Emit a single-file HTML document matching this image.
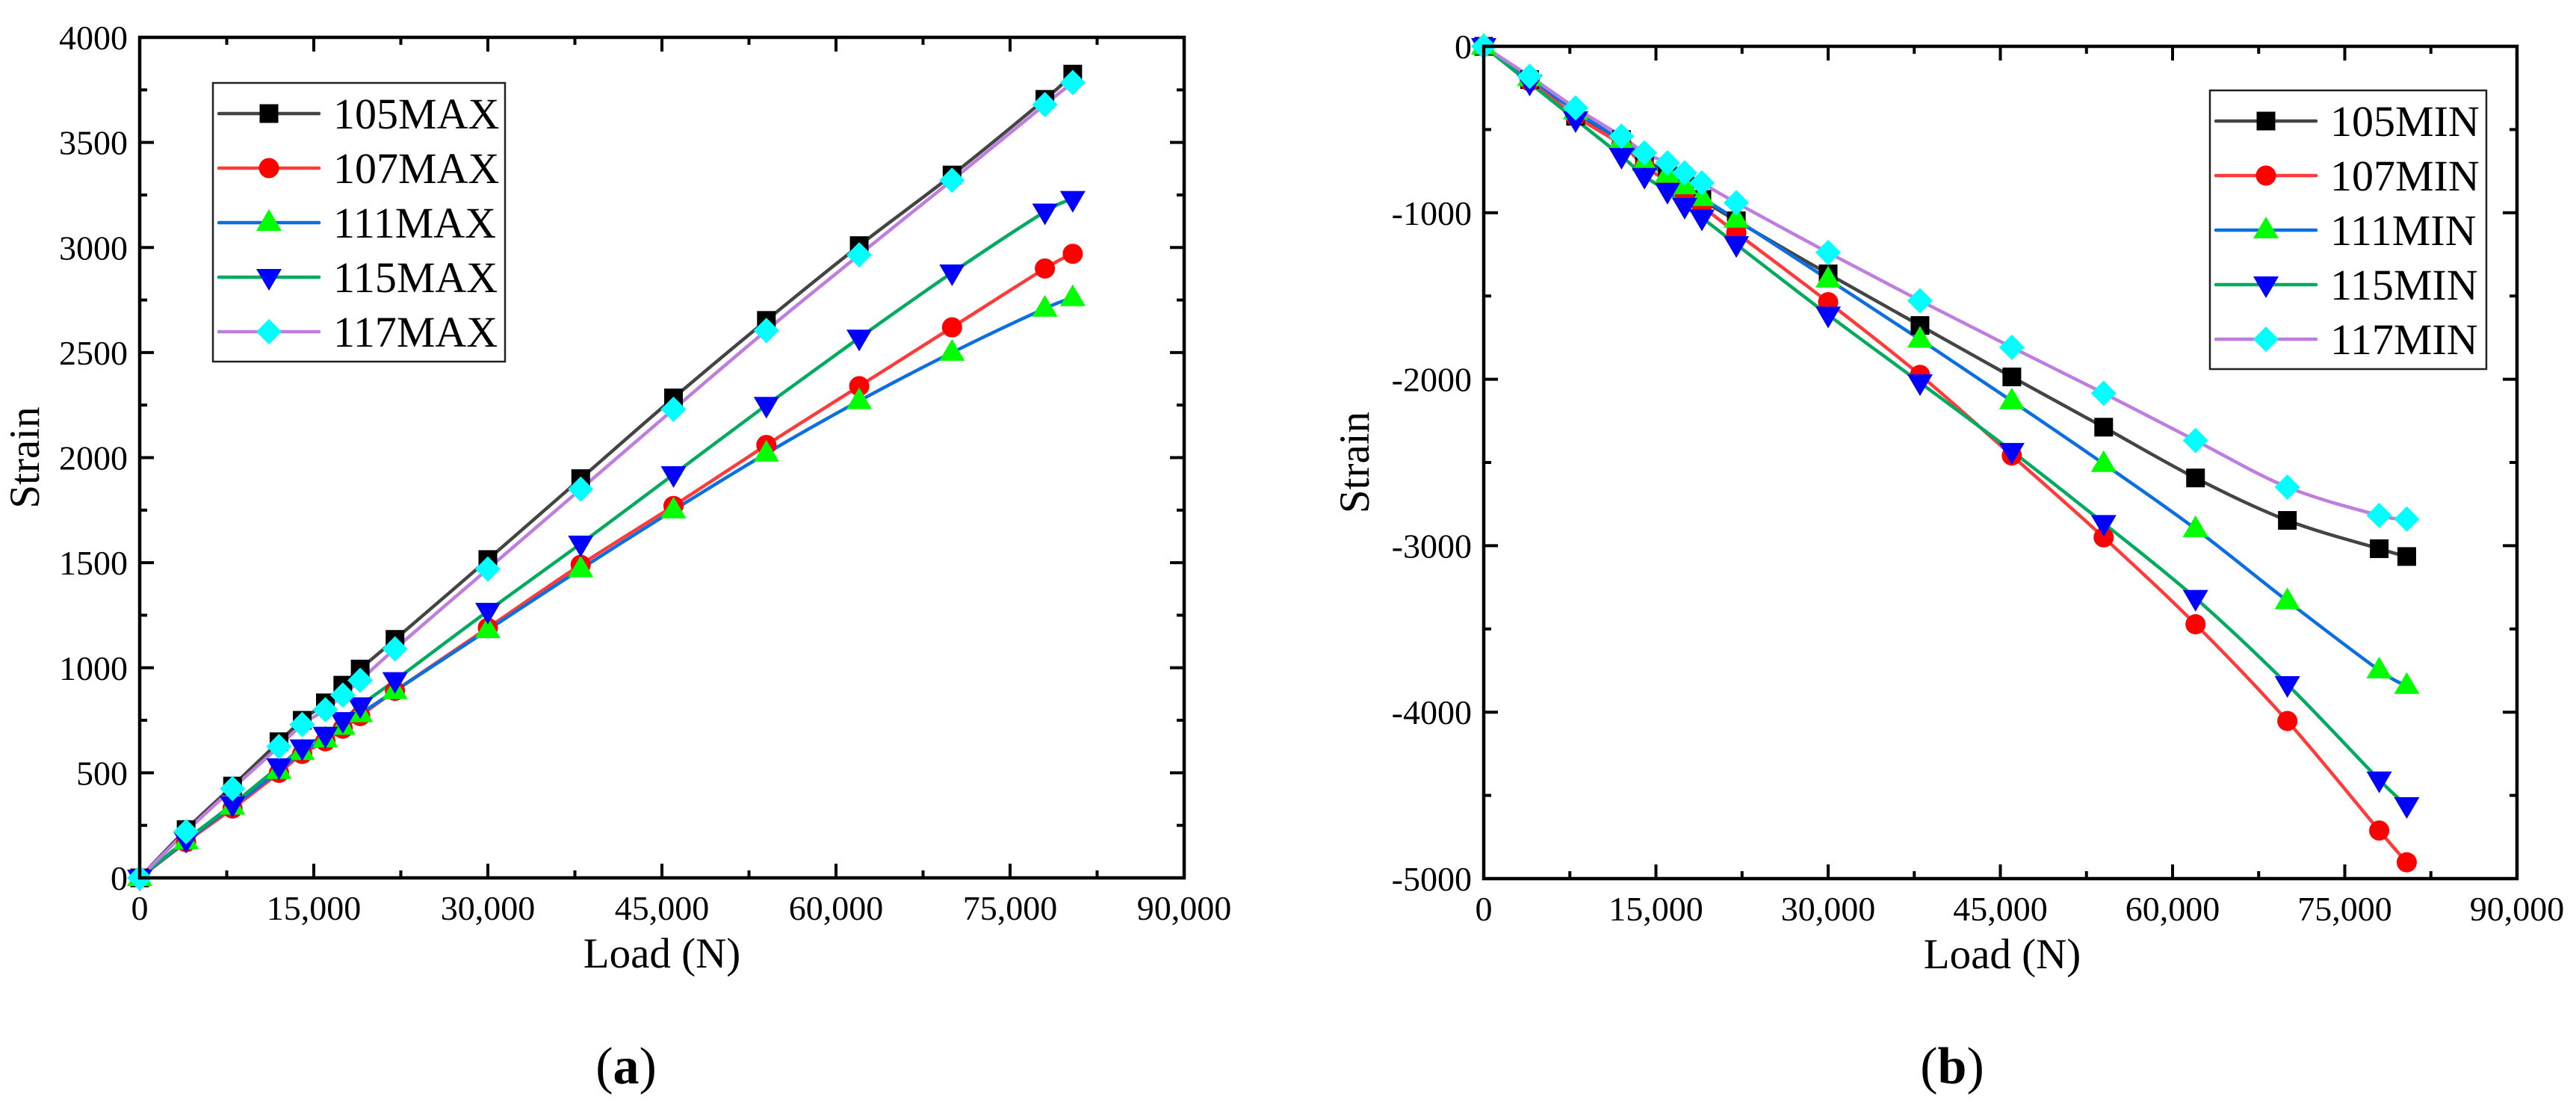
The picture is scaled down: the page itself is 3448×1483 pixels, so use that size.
<!DOCTYPE html>
<html><head><meta charset="utf-8"><style>
html,body{margin:0;padding:0;background:#fff;}
svg{display:block;font-family:"Liberation Serif","Times New Roman",serif;}
svg text{font-family:"Liberation Serif","Times New Roman",serif;}
</style></head>
<body>
<svg id="fig" width="3448" height="1483" viewBox="0 0 3448 1483" xmlns="http://www.w3.org/2000/svg" font-family="Liberation Serif, Times New Roman, serif"></svg>
<script>
const loads = [0,4000,8000,12000,14000,16000,17500,19000,22000,30000,38000,46000,54000,62000,70000,78000,80400];
const max105 = [0,230,437,648,750,833,917,994,1135,1515,1900,2284,2653,3009,3345,3705,3825];
const max107 = [0,170,330,500,590,650,710,770,890,1190,1490,1770,2060,2340,2620,2900,2970];
const max111 = [0,175,340,510,600,660,720,780,890,1180,1470,1750,2020,2270,2500,2710,2760];
const max115 = [0,180,350,530,620,680,750,820,940,1270,1590,1920,2250,2570,2880,3170,3230];
const max117 = [0,220,425,625,730,800,870,940,1090,1470,1850,2230,2605,2965,3320,3680,3785];
const min105 = [0,-200,-420,-560,-680,-760,-840,-920,-1048,-1367,-1677,-1986,-2288,-2593,-2848,-3018,-3065];
const min107 = [0,-210,-420,-590,-720,-810,-880,-960,-1120,-1537,-1974,-2458,-2950,-3472,-4053,-4711,-4902];
const min111 = [0,-190,-390,-570,-700,-770,-840,-910,-1040,-1400,-1761,-2131,-2508,-2899,-3332,-3748,-3841];
const min115 = [0,-220,-440,-660,-780,-870,-960,-1030,-1190,-1613,-2020,-2432,-2865,-3315,-3833,-4406,-4560];
const min117 = [0,-180,-370,-540,-640,-700,-760,-820,-940,-1239,-1528,-1808,-2084,-2368,-2648,-2818,-2840];
const xTicks = [0,15000,30000,45000,60000,75000,90000];
const xTickLabels = ["0","15,000","30,000","45,000","60,000","75,000","90,000"];
const yTicksA = [0,500,1000,1500,2000,2500,3000,3500,4000];
const yTicksB = [0,-1000,-2000,-3000,-4000,-5000];
const namesA = ["105MAX","107MAX","111MAX","115MAX","117MAX"];
const namesB = ["105MIN","107MIN","111MIN","115MIN","117MIN"];

const FONT = '"Liberation Serif", "Times New Roman", serif';
const styles = [
 {line:"#444444", fill:"#000000", m:"square"},
 {line:"#ff3b3b", fill:"#ff0000", m:"circle"},
 {line:"#0a6fe0", fill:"#00ff00", m:"up"},
 {line:"#00ab60", fill:"#0000ff", m:"down"},
 {line:"#c07de0", fill:"#00ffff", m:"diamond"}
];
const NS="http://www.w3.org/2000/svg";
const svg=document.getElementById('fig');
function el(tag,attrs,parent){const e=document.createElementNS(NS,tag);for(const k in attrs)e.setAttribute(k,attrs[k]);if(tag==='text'){e.setAttribute('font-family',FONT);e.style.fontFamily=FONT;}(parent||svg).appendChild(e);return e;}

function marker(g,type,x,y,fill){
  let e;
  if(type==="square"){e=el('rect',{x:x-12.5,y:y-12.5,width:25,height:25,fill:fill},g);}
  else if(type==="circle"){e=el('circle',{cx:x,cy:y,r:13.5,fill:fill},g);}
  else if(type==="up"){e=el('polygon',{points:`${x-17},${y+11} ${x+17},${y+11} ${x},${y-18}`,fill:fill},g);}
  else if(type==="down"){e=el('polygon',{points:`${x-17},${y-11} ${x+17},${y-11} ${x},${y+18}`,fill:fill},g);}
  else {e=el('polygon',{points:`${x},${y-17} ${x+17},${y} ${x},${y+17} ${x-17},${y}`,fill:fill},g);}
  return e;
}
function smoothPath(pts){
  let d=`M${pts[0][0]},${pts[0][1]}`;
  for(let i=0;i<pts.length-1;i++){
    const p0=pts[Math.max(0,i-1)],p1=pts[i],p2=pts[i+1],p3=pts[Math.min(pts.length-1,i+2)];
    const c1=[p1[0]+(p2[0]-p0[0])/6,p1[1]+(p2[1]-p0[1])/6];
    const c2=[p2[0]-(p3[0]-p1[0])/6,p2[1]-(p3[1]-p1[1])/6];
    d+=` C${c1[0]},${c1[1]} ${c2[0]},${c2[1]} ${p2[0]},${p2[1]}`;
  }
  return d;
}

function chart(cfg){
  const g=el('g',{});
  
  
  const X=v=>cfg.x0+(v-0)/90000*(cfg.x1-cfg.x0);
  const Y=v=>cfg.y0+(v-cfg.ymin)/(cfg.ymax-cfg.ymin)*(cfg.y1-cfg.y0);
  cfg.series.forEach((s,i)=>{
    const pts=loads.map((l,j)=>[X(l),Y(s[j])]);
    const p=el('path',{d:smoothPath(pts),fill:'none',stroke:styles[i].line,'stroke-width':4.5,'stroke-linejoin':'round'},g);
    
    
  });
  cfg.series.forEach((s,i)=>{
    const mg=el('g',{},g);
    
    
    loads.forEach((l,j)=>{marker(mg,styles[i].m,X(l),Y(s[j]),styles[i].fill);});
  });
  const fr=el('rect',{x:cfg.x0,y:cfg.y1,width:cfg.x1-cfg.x0,height:cfg.y0-cfg.y1,fill:'none',stroke:'#000','stroke-width':4.5},g);
  
  
  for(let v=0;v<=90000;v+=7500){
    const major=(v%15000===0);const L=major?19:10;const x=X(v);
    el('line',{x1:x,y1:cfg.y0,x2:x,y2:cfg.y0-L,stroke:'#000','stroke-width':4},g);
    el('line',{x1:x,y1:cfg.y1,x2:x,y2:cfg.y1+L,stroke:'#000','stroke-width':4},g);
  }
  xTicks.forEach((v,i)=>{
    const t=el('text',{x:X(v),y:cfg.y0+56,'font-size':46,'text-anchor':'middle'},g);
    t.textContent=xTickLabels[i];
    
    
  });
  const st=cfg.ystep/2;
  for(let v=cfg.ymin;v<=cfg.ymax+1e-6;v+=st){
    const major=(Math.round((v-cfg.ymin)/st)%2===0);const L=major?19:10;const y=Y(v);
    el('line',{x1:cfg.x0,y1:y,x2:cfg.x0+L,y2:y,stroke:'#000','stroke-width':4},g);
    el('line',{x1:cfg.x1,y1:y,x2:cfg.x1-L,y2:y,stroke:'#000','stroke-width':4},g);
  }
  cfg.yTicks.forEach(v=>{
    const t=el('text',{x:cfg.x0-16,y:Y(v)+16,'font-size':46,'text-anchor':'end'},g);
    t.textContent=String(v);
    
    
  });
  const xt=el('text',{x:cfg.xlabelX,y:cfg.y0+120,'font-size':57,'text-anchor':'middle'},g);
  xt.textContent='Load (N)';
  
  
  const yc=(cfg.y0+cfg.y1)/2;
  const yt=el('text',{x:cfg.ylabelX,y:yc,'font-size':57,'text-anchor':'middle',transform:`rotate(-90 ${cfg.ylabelX} ${yc})`},g);
  yt.textContent='Strain';
  
  
  const cap=el('text',{x:cfg.capX,y:1450,'font-size':70,'text-anchor':'middle'},g);
  cap.innerHTML='(<tspan font-weight="bold">'+cfg.cap+'</tspan>)';
  
  
  const lg=el('g',{},g);
  
  
  el('rect',{x:cfg.lx,y:cfg.ly,width:cfg.lw,height:373,fill:'#fff',stroke:'#222','stroke-width':2.5},lg);
  cfg.names.forEach((n,i)=>{
    const eg=el('g',{},lg);
    
    
    const yy=cfg.ly+41+i*73;
    el('line',{x1:cfg.lx+8,y1:yy,x2:cfg.lx+142,y2:yy,stroke:styles[i].line,'stroke-width':4.5,'stroke-linecap':'round'},eg);
    marker(eg,styles[i].m,cfg.lx+75,yy,styles[i].fill);
    const t=el('text',{x:cfg.lx+161,y:yy+20,'font-size':58},eg);
    t.textContent=n;
  });
}

chart({name:'chart-a-max-strain',x0:187,x1:1585,y0:1175,y1:50,ymin:0,ymax:4000,ystep:500,
  yTicks:yTicksA,series:[max105,max107,max111,max115,max117],names:namesA,
  xlabelX:886,ylabelX:52,capX:838,cap:'a',lx:285,ly:111,lw:391});
chart({name:'chart-b-min-strain',x0:1986,x1:3369,y0:1176,y1:62,ymin:-5000,ymax:0,ystep:1000,
  yTicks:yTicksB,series:[min105,min107,min111,min115,min117],names:namesB,
  xlabelX:2680,ylabelX:1832,capX:2613,cap:'b',lx:2958,ly:121,lw:370});
</script>
</body></html>
